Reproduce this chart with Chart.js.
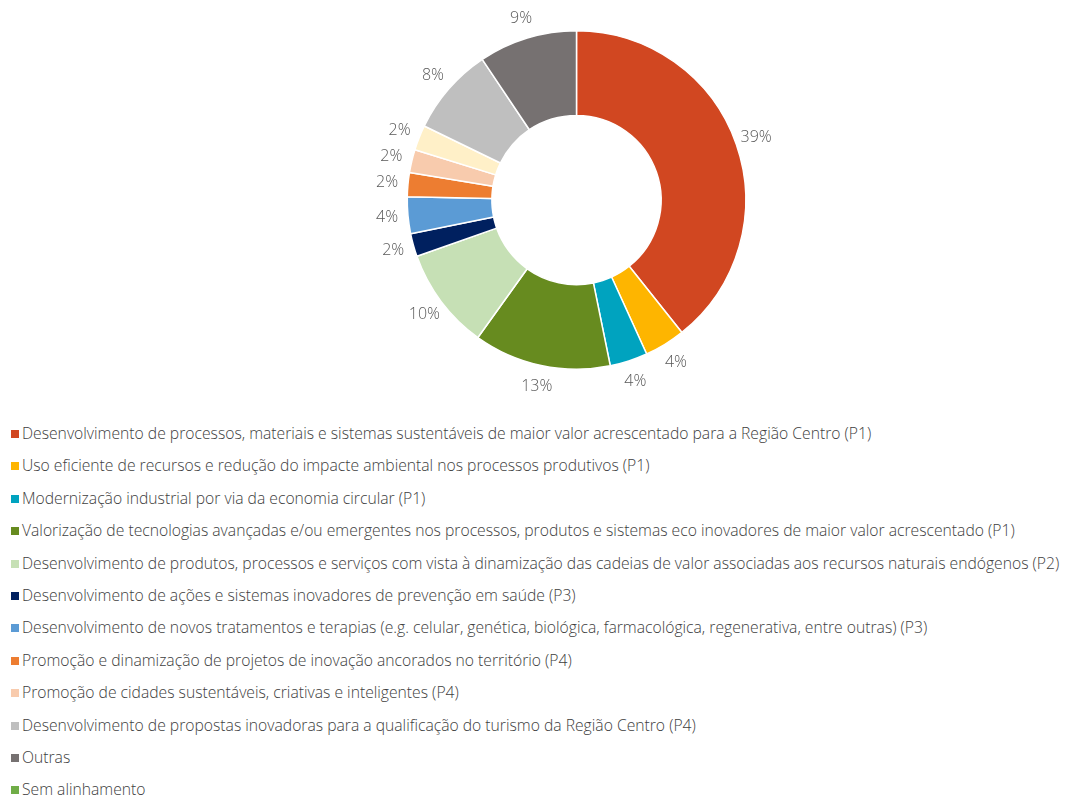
<!DOCTYPE html>
<html>
<head>
<meta charset="utf-8">
<script src="https://cdn.jsdelivr.net/npm/chart.js@4"></script>
<style>
  body { margin: 0; background: #fff; font-family: "Open Sans", sans-serif; font-weight: 300; }
  #wrap { position: relative; width: 1071px; height: 400px; }
  #legend { list-style: none; margin: 0; padding: 0; position: absolute; left: 11px; top: 417px; }
  #legend li { height: 32.4px; line-height: 32px; font-size: 15.7px; color: #404040; white-space: nowrap; }
  #legend span { display: inline-block; width: 8px; height: 8px; margin-right: 3px; vertical-align: 1px; }
</style>
</head>
<body>
<div id="wrap"><canvas id="chart"></canvas></div>
<ul id="legend"></ul>
<script>
// Categories (empty label = slice without a legend entry)
const labels = [
    "Desenvolvimento de processos, materiais e sistemas sustentáveis de maior valor acrescentado para a Região Centro (P1)",
    "Uso eficiente de recursos e redução do impacte ambiental nos processos produtivos (P1)",
    "Modernização industrial por via da economia circular (P1)",
    "Valorização de tecnologias avançadas e/ou emergentes nos processos, produtos e sistemas eco inovadores de maior valor acrescentado (P1)",
    "Desenvolvimento de produtos, processos e serviços com vista à dinamização das cadeias de valor associadas aos recursos naturais endógenos (P2)",
    "Desenvolvimento de ações e sistemas inovadores de prevenção em saúde (P3)",
    "Desenvolvimento de novos tratamentos e terapias (e.g. celular, genética, biológica, farmacológica, regenerativa, entre outras) (P3)",
    "Promoção e dinamização de projetos de inovação ancorados no território (P4)",
    "Promoção de cidades sustentáveis, criativas e inteligentes (P4)",
    "",
    "Desenvolvimento de propostas inovadoras para a qualificação do turismo da Região Centro (P4)",
    "Outras",
    "Sem alinhamento"
];

// Share of projects (%)
const shares = [39.3, 3.9, 3.6, 13.1, 9.7, 2.2, 3.5, 2.3, 2.2, 2.4, 8.4, 9.4, 0];

const colors = [
    "#D14721", "#FEB500", "#00A3BF", "#678B1F", "#C6E0B5", "#00205F",
    "#5B9BD5", "#ED7D31", "#F8CBAD", "#FFF0C8", "#BFBFBF", "#767171", "#70AD47"
];

// Percent labels outside each slice
const outsideLabels = {
    id: "outsideLabels",
    afterDatasetsDraw(chart) {
        const ctx = chart.ctx;
        const meta = chart.getDatasetMeta(0);
        ctx.save();
        ctx.font = "300 16px 'Open Sans'";
        ctx.fillStyle = "#595959";
        ctx.textAlign = "center";
        ctx.textBaseline = "middle";
        meta.data.forEach((arc, i) => {
            const v = shares[i];
            if (!v) return;
            const mid = (arc.startAngle + arc.endAngle) / 2;
            const r = arc.outerRadius + 21;
            ctx.fillText(Math.round(v) + "%", arc.x + Math.cos(mid) * r, arc.y + Math.sin(mid) * r);
        });
        ctx.restore();
    }
};

const ctx = document.getElementById("chart").getContext("2d");
new Chart(ctx, {
    type: "doughnut",
    data: {
        labels,
        datasets: [{
            data: shares,
            backgroundColor: colors,
            borderColor: "#fff",
            borderWidth: 1.5
        }]
    },
    options: {
        responsive: true,
        maintainAspectRatio: false,
        animation: false,
        cutout: "50%",
        layout: { padding: { left: 82, top: 30, bottom: 30 } },
        plugins: {
            legend: { display: false },
            tooltip: { enabled: false }
        }
    },
    plugins: [outsideLabels]
});

// Legend rows
const legend = document.getElementById("legend");
labels.forEach((name, i) => {
    if (!name) return;
    const li = document.createElement("li");
    li.innerHTML = '<span style="background:' + colors[i] + '"></span>' + name;
    legend.appendChild(li);
});
</script>
</body>
</html>
